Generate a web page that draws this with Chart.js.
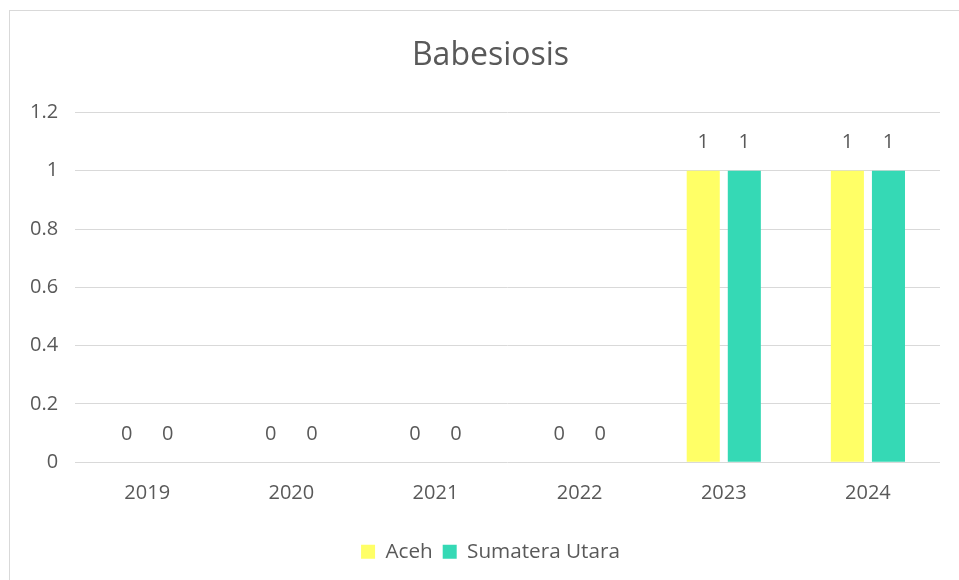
<!DOCTYPE html>
<html>
<head>
<meta charset="utf-8">
<script src="https://cdn.jsdelivr.net/npm/chart.js@4.4.0/dist/chart.umd.min.js"></script>
<style>
  html, body { margin: 0; padding: 0; background: #ffffff; }
  #wrap { position: relative; width: 959px; height: 580px; overflow: hidden; }
  #frame { position: absolute; left: 9px; top: 10px; width: 980px; height: 600px; border: 1px solid #d9d9d9; box-sizing: border-box; }
  #c { position: absolute; left: 0; top: 0; }
</style>
</head>
<body>
<div id="wrap">
  <div id="frame"></div>
  <canvas id="c" width="959" height="580"></canvas>
</div>
<script>
const titleText = "Babesiosis";
const categories = ["2019", "2020", "2021", "2022", "2023", "2024"];
const seriesNames = ["Aceh", "Sumatera Utara"];
const acehValues = [0, 0, 0, 0, 1, 1];
const sumutValues = [0, 0, 0, 0, 1, 1];
const yTicks = [0, 0.2, 0.4, 0.6, 0.8, 1, 1.2];

const textColor = "#595959";
const fontFamily = "'Open Sans', 'Noto Sans', sans-serif";

const valueLabels = {
  id: "valueLabels",
  afterDatasetsDraw(chart) {
    const ctx = chart.ctx;
    ctx.save();
    ctx.font = "20px " + fontFamily;
    ctx.fillStyle = textColor;
    ctx.textAlign = "center";
    ctx.textBaseline = "middle";
    chart.data.datasets.forEach((ds, di) => {
      const meta = chart.getDatasetMeta(di);
      meta.data.forEach((el, i) => {
        ctx.fillText(String(ds.data[i]), el.x, el.y - 28);
      });
    });
    ctx.restore();
  }
};

const centerShift = {
  id: "centerShift",
  afterLayout(chart) {
    [chart.legend, chart.titleBlock].forEach(b => {
      if (b) { b.left += 14; b.right += 14; }
    });
  }
};

new Chart(document.getElementById("c"), {
  type: "bar",
  data: {
    labels: categories,
    datasets: [
      { label: seriesNames[0], data: acehValues, backgroundColor: "#FFFF66", barPercentage: 0.805, categoryPercentage: 0.57 },
      { label: seriesNames[1], data: sumutValues, backgroundColor: "#35D9B5", barPercentage: 0.805, categoryPercentage: 0.57 }
    ]
  },
  options: {
    responsive: false,
    animation: false,
    layout: { padding: { left: 13, right: 19, top: 0, bottom: 8 } },
    plugins: {
      title: {
        display: true,
        text: titleText,
        color: textColor,
        font: { family: fontFamily, size: 32, weight: "normal" },
        padding: { top: 37, bottom: 37 }
      },
      legend: {
        position: "bottom",
        labels: {
          color: textColor,
          font: { family: fontFamily, size: 20.7 },
          boxWidth: 14,
          boxHeight: 14,
          padding: 10
        }
      },
      tooltip: { enabled: false }
    },
    scales: {
      x: {
        afterFit(scale) { scale.height = 69; },
        grid: { display: false, drawTicks: false },
        border: { display: false },
        ticks: { color: textColor, font: { family: fontFamily, size: 20 }, padding: 19 }
      },
      y: {
        min: 0,
        max: 1.2,
        afterBuildTicks(scale) { scale.ticks = yTicks.map(v => ({ value: v })); },
        grid: { color: "#d9d9d9", lineWidth: 1, drawTicks: false },
        border: { display: false },
        ticks: { color: textColor, font: { family: fontFamily, size: 20 }, padding: 17,
          callback: v => String(Math.round(v * 10) / 10) }
      }
    }
  },
  plugins: [valueLabels, centerShift]
});
</script>
</body>
</html>
